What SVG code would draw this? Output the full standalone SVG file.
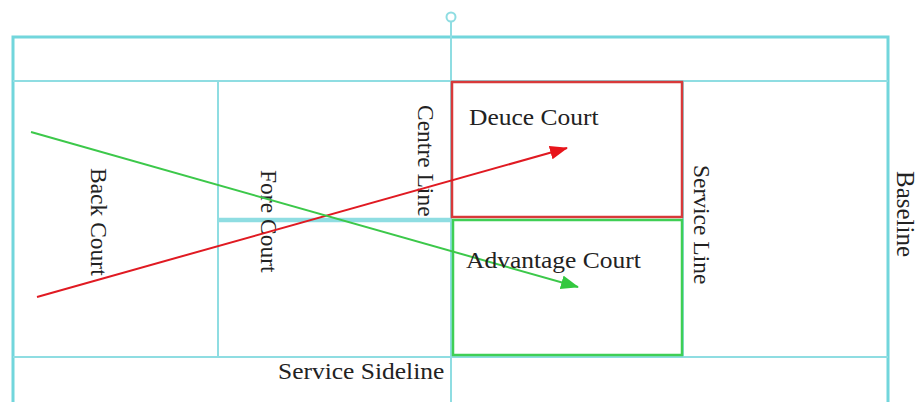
<svg xmlns="http://www.w3.org/2000/svg" width="919" height="402" viewBox="0 0 919 402">
  <style>
    .outer { stroke: #72d6dc; stroke-width: 3; fill: none; }
    .inner { stroke: #8fdde2; stroke-width: 2; fill: none; }
    .label { font-family: "Liberation Serif", "Times New Roman", serif; font-size: 23.5px; fill: #222; }
    .deuce { stroke: #d8393a; stroke-width: 2.5; fill: none; }
    .adv { stroke: #3fcf55; stroke-width: 2.5; fill: none; }
  </style>
  <defs>
    <marker id="headRed" markerUnits="userSpaceOnUse" markerWidth="20" markerHeight="16" refX="17" refY="7" orient="auto">
      <path d="M0,0 L18,7 L0,14 Z" fill="#e8141a"/>
    </marker>
    <marker id="headGreen" markerUnits="userSpaceOnUse" markerWidth="20" markerHeight="16" refX="17" refY="7" orient="auto">
      <path d="M0,0 L18,7 L0,14 Z" fill="#33c83f"/>
    </marker>
  </defs>
  <rect width="919" height="402" fill="#ffffff"/>

  <!-- court markings -->
  <g id="court">
    <path class="outer" d="M13,402 V37 H888 V402"/>
    <line class="inner" x1="13" y1="81" x2="888" y2="81"/>
    <line class="inner" x1="13" y1="357" x2="888" y2="357"/>
    <line class="inner" x1="218" y1="81" x2="218" y2="357"/>
    <line class="inner" x1="683" y1="81" x2="683" y2="357"/>
    <line class="inner" x1="451" y1="22" x2="451" y2="402"/>
    <circle class="inner" cx="451" cy="17" r="4.5"/>
    <line stroke="#8fdde2" stroke-width="4.5" x1="218" y1="220" x2="452" y2="220"/>
  </g>

  <g id="deuce-court">
    <rect class="deuce" x="452" y="82" width="230" height="135"/>
    <text class="label" transform="translate(469,125) scale(1.085,1)">Deuce Court</text>
  </g>

  <g id="advantage-court">
    <rect class="adv" x="453" y="220" width="229" height="135"/>
  </g>

  <g id="labels">
    <text class="label" transform="translate(91,168) rotate(90)">Back Court</text>
    <text class="label" transform="translate(261,170) rotate(90)">Fore Court</text>
    <text class="label" transform="translate(418,105) rotate(90)">Centre Line</text>
    <text class="label" transform="translate(694,165) rotate(90)">Service Line</text>
    <text class="label" style="font-size:25px" transform="translate(897,171) rotate(90)">Baseline</text>
    <text class="label" transform="translate(278,379) scale(1.085,1)">Service Sideline</text>
  </g>

  <!-- direction of play -->
  <g id="connectors">
    <line x1="37" y1="297" x2="567" y2="148" stroke="#e01a22" stroke-width="2" marker-end="url(#headRed)"/>
    <line x1="31" y1="132" x2="578" y2="287" stroke="#3cc84a" stroke-width="2" marker-end="url(#headGreen)"/>
  </g>

  <g id="advantage-label">
    <text class="label" transform="translate(466,268) scale(1.085,1)">Advantage Court</text>
  </g>
</svg>
